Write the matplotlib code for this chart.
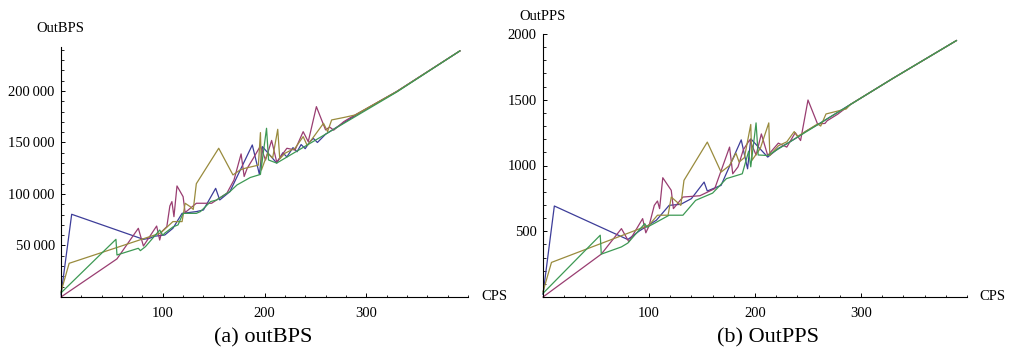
import matplotlib
matplotlib.use("Agg")
import matplotlib.pyplot as plt
from matplotlib.ticker import FixedLocator, MultipleLocator, FuncFormatter

plt.rcParams['font.family'] = ['Liberation Serif', 'DejaVu Serif']

# ---------------- data: left panel (OutBPS vs CPS) ----------------
blue_x_L = [0, 10.5, 81, 87, 92, 102, 110, 119, 133, 140, 152, 156, 166, 188, 195, 198, 212,
            218, 222, 228, 232, 236, 240, 244, 248, 252, 260, 290, 330, 392]
blue_y_L = [2000, 80300, 56000, 57000, 59000, 60200, 66700, 81200, 82900, 84500, 105500, 94200, 102300,
            147600, 119000, 146000, 130000, 140000, 136000, 145000, 141000, 148000, 144000, 150000,
            154000, 150000, 158000, 176700, 199500, 238900]

magenta_x_L = [0, 55, 76, 81, 94, 97, 99, 104, 107, 109, 111, 114, 120, 122, 133, 148, 163, 170,
               177, 180, 183, 189, 196, 201, 207, 212, 222, 230, 238, 243, 251, 260, 264, 268, 278,
               286, 330, 392]
magenta_y_L = [0, 37000, 66700, 49500, 68900, 55300, 63400, 68300, 88400, 92600, 78000, 107800,
               97400, 82000, 91000, 91000, 100700, 113600, 138900, 117000, 125000, 134700, 146600,
               133000, 152000, 131000, 144400, 142700, 160500, 150800, 184800, 162200, 165000,
               162000, 170300, 175000, 199500, 238900]

olive_x_L = [0, 8, 97, 101, 110, 119, 122, 127, 130, 133, 155, 169, 176, 181, 194, 196, 197, 203,
             208, 213, 215, 220, 230, 238, 242, 258, 262, 266, 279, 289, 330, 392]
olive_y_L = [5000, 32700, 61800, 65000, 73200, 73200, 91000, 87700, 85000, 110000, 144400, 118500,
             123300, 125000, 128000, 159600, 123300, 139500, 135000, 162800, 134000, 139500,
             144400, 155700, 147000, 168600, 160600, 171900, 174500, 176700, 199500, 238900]

green_x_L = [0, 54, 55, 76, 78, 83, 97, 100, 102, 110, 115, 120, 133, 137, 147, 153, 163, 166,
             173, 186, 196, 202, 204, 212, 330, 392]
green_y_L = [4000, 56000, 40800, 47300, 45000, 48900, 65000, 60000, 62000, 68000, 70000, 81200,
             81200, 82900, 92600, 94200, 100700, 102300, 108800, 116000, 119000, 163800, 133000,
             130000, 199000, 238900]

# ---------------- data: right panel (OutPPS vs CPS) ----------------
blue_x_R = [0, 10.7, 80, 91, 107, 119, 130, 140, 152, 155, 168, 187, 193, 196, 212, 222, 232,
            240, 248, 260, 290, 330, 390]
blue_y_R = [20, 692, 437, 503, 584, 697, 705, 748, 874, 806, 849, 1195, 975, 1203, 1064, 1130,
            1175, 1215, 1260, 1315, 1464, 1662, 1950]

magenta_x_R = [0, 55, 74, 81, 94, 97, 100, 105, 108, 110, 113, 121, 123, 132, 148, 162, 176, 179,
               184, 189, 195, 201, 206, 212, 222, 230, 238, 243, 250, 259, 266, 268, 278, 290,
               330, 390]
magenta_y_R = [0, 326, 520, 420, 596, 488, 540, 697, 730, 672, 907, 811, 672, 760, 770, 824, 1140,
               937, 990, 1120, 1195, 1080, 1240, 1076, 1170, 1140, 1250, 1190, 1498, 1316, 1320,
               1340, 1390, 1464, 1662, 1950]

olive_x_R = [0, 8, 100, 108, 118, 121, 130, 133, 155, 168, 176, 182, 185, 190, 196, 197, 205, 213,
             214, 222, 230, 237, 240, 259, 262, 267, 286, 290, 330, 390]
olive_y_R = [40, 263, 546, 622, 622, 760, 697, 887, 1178, 950, 1000, 1094, 1026, 1060, 1312, 1038,
             1130, 1324, 1076, 1150, 1180, 1258, 1220, 1316, 1300, 1392, 1430, 1464, 1662, 1950]

green_x_R = [0, 54, 55, 74, 80, 96, 98, 105, 119, 132, 144, 160, 173, 188, 194, 196, 201, 203,
             212, 330, 390]
green_y_R = [28, 470, 326, 381, 410, 558, 530, 560, 622, 622, 735, 790, 900, 937, 1109, 990, 1324,
             1080, 1076, 1662, 1950]

colors = [(0.24, 0.24, 0.6), (0.6, 0.24, 0.442), (0.6, 0.547, 0.24), (0.24, 0.6, 0.33)]

W, H = 1009, 354
fig = plt.figure(figsize=(W / 100, H / 100), dpi=100)


def px_box(x0, x1, ytop, ybot):
    return [x0 / W, 1 - ybot / H, (x1 - x0) / W, (ybot - ytop) / H]


def style(ax, ymax, ymajor, yminor, fmt):
    ax.set_xlim(0, 400)
    ax.set_ylim(0, ymax)
    for s in ['top', 'right']:
        ax.spines[s].set_visible(False)
    for s in ['left', 'bottom']:
        ax.spines[s].set_linewidth(0.8)
    ax.xaxis.set_major_locator(FixedLocator([100, 200, 300]))
    ax.xaxis.set_minor_locator(MultipleLocator(20))
    ax.yaxis.set_major_locator(FixedLocator(ymajor))
    ax.yaxis.set_minor_locator(MultipleLocator(yminor))
    ax.yaxis.set_major_formatter(FuncFormatter(fmt))
    ax.tick_params(which='major', direction='in', length=3.2, width=0.7, labelsize=10.5)
    ax.tick_params(axis='x', which='major', pad=7)
    ax.tick_params(axis='y', which='major', pad=4.5)
    ax.tick_params(which='minor', direction='in', length=1.8, width=0.6)
    ax.patch.set_alpha(0)


axL = fig.add_axes(px_box(61, 468, 47, 297))
for (x, y), c in zip([(blue_x_L, blue_y_L), (magenta_x_L, magenta_y_L),
                      (olive_x_L, olive_y_L), (green_x_L, green_y_L)], colors):
    axL.plot(x, y, color=c, lw=0.9, clip_on=False)
style(axL, 242700, [50000, 100000, 150000, 200000], 10000,
      lambda v, p: f"{int(v) // 1000}\u2009{int(v) % 1000:03d}")

axR = fig.add_axes(px_box(543, 967, 34, 297))
for (x, y), c in zip([(blue_x_R, blue_y_R), (magenta_x_R, magenta_y_R),
                      (olive_x_R, olive_y_R), (green_x_R, green_y_R)], colors):
    axR.plot(x, y, color=c, lw=0.9, clip_on=False)
style(axR, 2000, [500, 1000, 1500, 2000], 100, lambda v, p: f"{int(v)}")

fig.text(60 / W, 1 - 28 / H, "OutBPS", ha='center', va='center', fontsize=10.5)
fig.text(481 / W, 1 - 297 / H, "CPS", ha='left', va='center', fontsize=10.5)
fig.text(543 / W, 1 - 16 / H, "OutPPS", ha='center', va='center', fontsize=10.5)
fig.text(979 / W, 1 - 297 / H, "CPS", ha='left', va='center', fontsize=10.5)

fig.text(263 / W, 1 - 338 / H, "(a) outBPS", ha='center', va='center', fontsize=16)
fig.text(768 / W, 1 - 338 / H, "(b) OutPPS", ha='center', va='center', fontsize=16)

fig.savefig("out.png", dpi=100)
